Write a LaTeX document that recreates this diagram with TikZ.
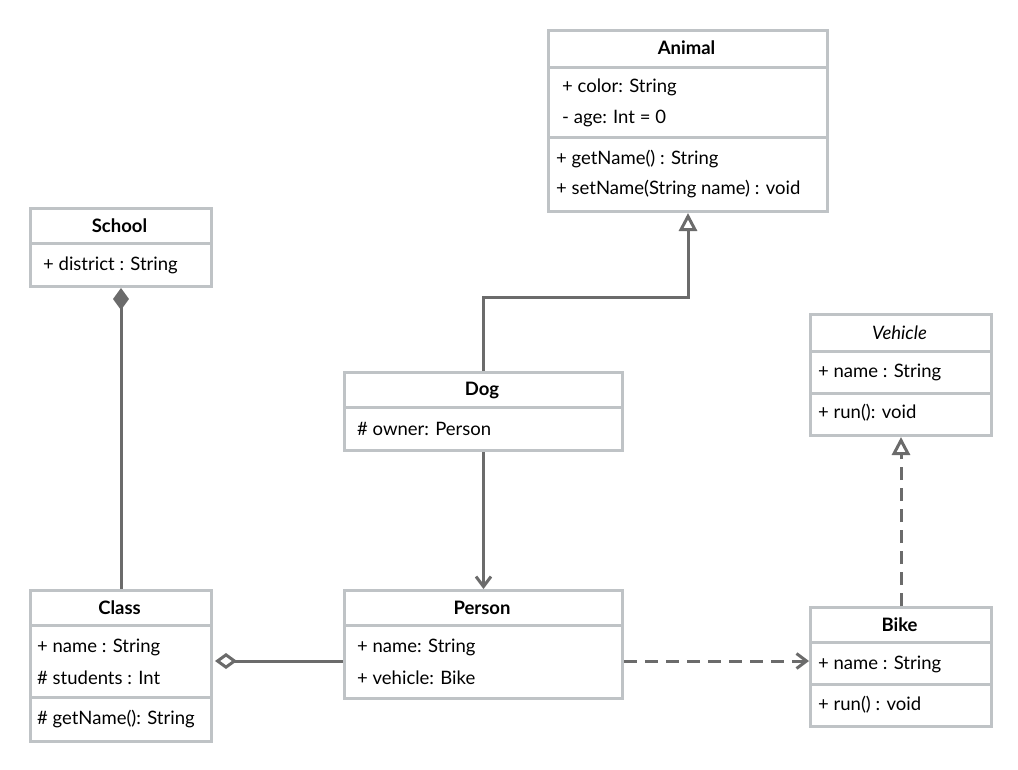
\documentclass[tikz,border=0pt]{standalone}
\usepackage{fontspec}
\setmainfont{Lato}
\usepackage{tikz}
\usetikzlibrary{arrows.meta}

\definecolor{boxgray}{HTML}{BFC3C6}
\definecolor{linkgray}{HTML}{6B6B6B}

\begin{document}
\begin{tikzpicture}[x=1pt,y=-1pt,
  cls/.style={draw=boxgray,line width=3pt,anchor=north west,inner sep=0pt,fill=white},
  sep/.style={draw=boxgray,line width=3pt},
  title/.style={font=\fontsize{18.5}{21}\selectfont\bfseries,inner sep=0pt},
  item/.style={font=\fontsize{18.5}{21}\selectfont,anchor=west,inner sep=0pt},
  link/.style={draw=linkgray,line width=3pt},
  dashlink/.style={dash pattern=on 13pt off 8pt}]
\useasboundingbox (0,0) rectangle (1018,769);
% class boxes
\node[cls,minimum width=279pt,minimum height=181pt] (animal) at (547,29) {};
\node[cls,minimum width=181pt,minimum height=78pt] (school) at (29,207) {};
\node[cls,minimum width=181pt,minimum height=121pt] (vehicle) at (809,313) {};
\node[cls,minimum width=278pt,minimum height=78pt] (dog) at (343,371) {};
\node[cls,minimum width=181pt,minimum height=151pt] (class) at (29,589) {};
\node[cls,minimum width=278pt,minimum height=108pt] (person) at (343,589) {};
\node[cls,minimum width=181pt,minimum height=119pt] (bike) at (809,606) {};
\foreach \x/\w/\y in {547/279/67, 547/279/137, 29/181/243, 809/181/351, 809/181/393,
343/278/407, 29/181/625, 29/181/697, 343/278/625, 809/181/642, 809/181/684}
  \draw[sep] (\x,\y) -- ++(\w,0);
% titles
\node[title] (animal-t) at (686.5,48) {Animal};
\node[title] (school-t) at (119.5,226) {School};
\node[title,font=\fontsize{18.5}{21}\selectfont\itshape] (vehicle-t) at (899.5,333) {Vehicle};
\node[title] (dog-t) at (482,390) {Dog};
\node[title] (class-t) at (119.5,608) {Class};
\node[title] (person-t) at (482,608) {Person};
\node[title] (bike-t) at (899.5,625) {Bike};
% members
\foreach \x/\y/\t [count=\i] in {562/87/{+ color: String}, 562/118/{- age: Int = 0},
556/159/{+ getName() : String}, 556/189/{+ setName(String name) : void},
43/265/{+ district : String}, 818/372/{+ name : String}, 818/413/{+ run(): void},
357/429/{\# owner: Person}, 37/647/{+ name : String}, 37/678/{\# students : Int},
37/719/{\# getName(): String}, 357/647/{+ name: String}, 357/678/{+ vehicle: Bike},
818/664/{+ name : String}, 818/705/{+ run() : void}}
  \node[item] (item\i) at (\x,\y) {\t};
% relations
\coordinate (midrow) at (0,661);
\draw[link,-{Triangle[open,length=18pt,width=18pt]}] (dog.north) -- ++(0,-74) -| (animal.south);
\draw[link,{Diamond[length=22pt,width=16pt]}-] (school.south) -- (class.north);
\draw[link,-{Straight Barb[length=10pt,width=15pt]}] (dog.south) -- (person.north);
\draw[link,{Diamond[open,length=22pt,width=16pt]}-,shorten <=2pt] (class.east |- midrow) -- (person.west |- midrow);
\draw[link,dashlink,-{Straight Barb[length=10pt,width=15pt]}] (person.east |- midrow) -- (bike.west |- midrow);
\draw[link,dashlink,-{Triangle[open,length=18pt,width=18pt]}] (bike.north) -- (vehicle.south);
\end{tikzpicture}
\end{document}
